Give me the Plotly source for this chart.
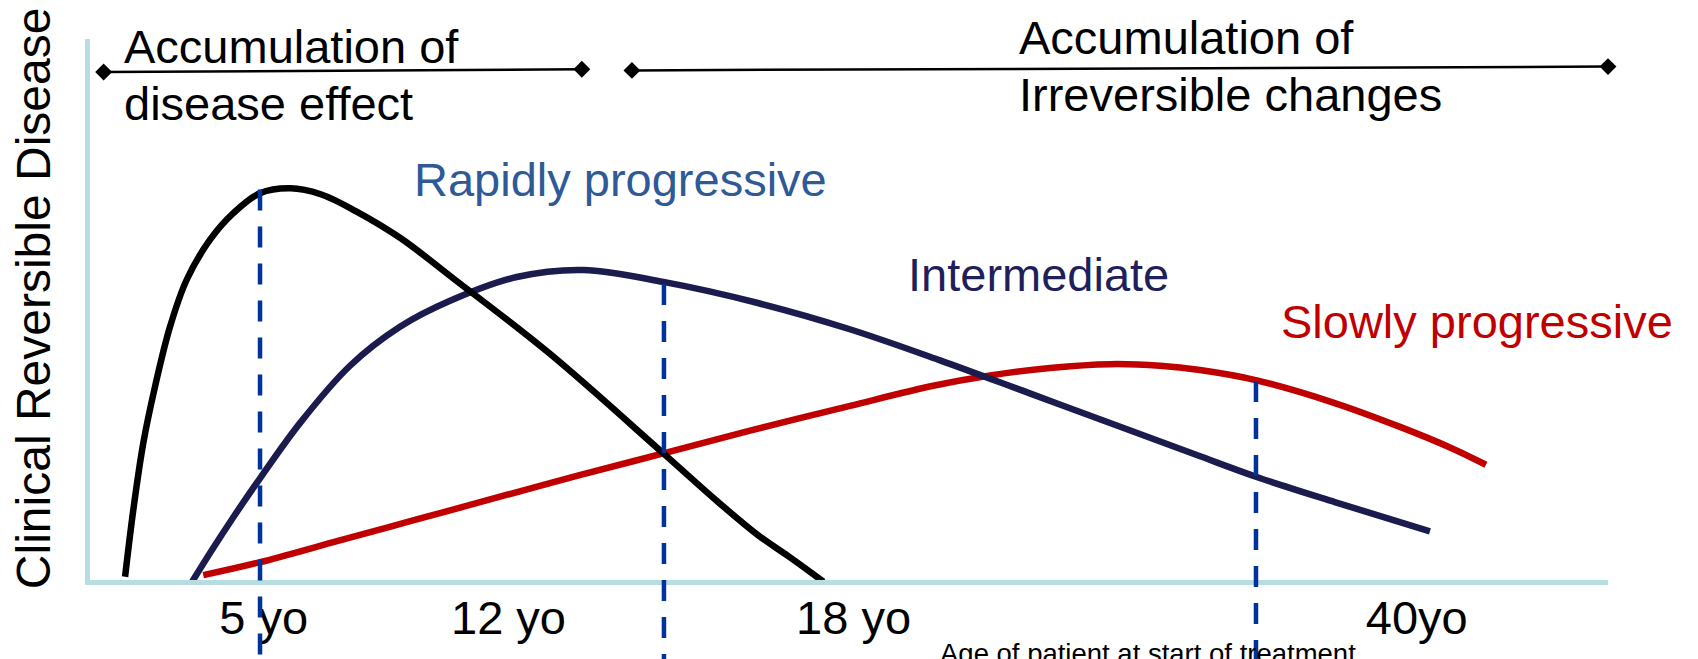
import plotly.graph_objects as go

# Horizontal axis: position along the age timeline (0-100); vertical: relative disease burden (0-100)
rapid_x = [2.31, 2.85, 3.51, 4.28, 5.27, 6.37, 7.91, 9.44, 11.20, 13.20, 15.20, 17.50,
           20.40, 24.00, 30.30, 37.77, 41.30, 44.00, 46.00, 48.31]
rapid_y = [0.6, 12.9, 25.3, 35.7, 46.8, 55.5, 62.9, 67.8, 71.5, 72.4, 71.3, 68.2,
           63.3, 55.6, 41.8, 23.4, 14.6, 8.3, 4.4, -0.3]

mid_x = [6.40, 8.00, 9.44, 11.20, 13.83, 17.13, 20.42, 23.72, 28.11, 32.50, 37.77,
         44.00, 50.00, 56.00, 62.00, 68.00, 73.00, 77.00, 82.00, 88.27]
mid_y = [-1.8, 5.4, 11.6, 18.8, 29.0, 39.6, 46.8, 51.6, 56.0, 57.3, 55.1,
         51.2, 46.4, 40.6, 34.4, 28.2, 23.0, 18.9, 14.4, 9.0]

slow_x = [7.46, 11.20, 16.03, 21.52, 27.01, 32.00, 37.77, 43.48, 50.07, 55.55, 59.29,
          63.24, 67.20, 70.50, 73.12, 76.86, 81.90, 86.30, 89.59, 91.96]
slow_y = [0.9, 3.3, 7.0, 11.2, 15.4, 19.2, 23.4, 27.6, 32.2, 35.9, 37.8,
          39.2, 39.9, 39.6, 38.8, 36.9, 32.8, 28.3, 24.5, 21.3]

# Ages where treatment starts, and the burden reached at that point
start_x = [11.20, 37.81, 76.81]
start_top = [72.2, 54.7, 36.8]

# Phase brackets along the top
phase1_x = [0.9, 32.4]
phase1_y = [93.9, 94.4]
phase2_x = [35.7, 100.0]
phase2_y = [94.2, 94.9]

tick_pos = [11.44, 27.57, 50.3, 87.4]
tick_labels = ["5 yo", "12 yo", "18 yo", "40yo"]

X_RANGE = [0, 100]
Y_RANGE = [0, 100]

FONT = "Liberation Sans, Arial, sans-serif"
AXIS_COLOR = "#B7DDE0"
DASH_COLOR = "#003399"


def to_paper_y(v):
    return (v - Y_RANGE[0]) / (Y_RANGE[1] - Y_RANGE[0])


fig = go.Figure()

curve_style = dict(mode="lines", line_shape="spline", hoverinfo="skip", showlegend=False)
fig.add_trace(go.Scatter(x=slow_x, y=slow_y, line=dict(color="#C00000", width=6.5, smoothing=1.0),
                         **curve_style))
fig.add_trace(go.Scatter(x=mid_x, y=mid_y, line=dict(color="#1B1B4E", width=6.5, smoothing=1.0),
                         **curve_style))
fig.add_trace(go.Scatter(x=rapid_x, y=rapid_y, line=dict(color="#000000", width=6.5, smoothing=1.0),
                         **curve_style))

for bx, by in ((phase1_x, phase1_y), (phase2_x, phase2_y)):
    fig.add_trace(go.Scatter(x=bx, y=by, mode="lines+markers", cliponaxis=False,
                             line=dict(color="#000000", width=2.5),
                             marker=dict(symbol="diamond", size=13, color="#000000"),
                             hoverinfo="skip", showlegend=False))

# Dashed verticals run from the curve down past the axis to the page bottom
for sx, top in zip(start_x, start_top):
    fig.add_shape(type="line", xref="x", yref="paper", x0=sx, x1=sx,
                  y0=to_paper_y(top), y1=-0.2,
                  line=dict(color=DASH_COLOR, width=4.5, dash="21px,16px"), layer="above")

ann = dict(showarrow=False, font=dict(family=FONT, size=47, color="#000000"),
           xref="x", yref="y", xanchor="left", yanchor="middle")
fig.add_annotation(text="Accumulation of", x=2.08, y=98.6, **ann)
fig.add_annotation(text="disease effect", x=2.08, y=88.1, **ann)
fig.add_annotation(text="Irreversible changes", x=61.04, y=89.8, **ann)
top_ann = dict(ann)
top_ann["yref"] = "paper"
fig.add_annotation(text="Accumulation of", x=61.04, y=1, yshift=2, **top_ann)

label = dict(ann)
label["font"] = dict(family=FONT, size=47, color="#2E5A96")
fig.add_annotation(text="Rapidly progressive", x=21.18, y=74.1, **label)
label["font"] = dict(family=FONT, size=47, color="#1F1F5C")
fig.add_annotation(text="Intermediate", x=53.78, y=56.5, **label)
label["font"] = dict(family=FONT, size=47, color="#C00000")
fig.add_annotation(text="Slowly progressive", x=78.35, y=47.7, **label)

fig.add_annotation(text="Clinical Reversible Disease", textangle=-90,
                   xref="paper", yref="paper", x=0, y=0.521, xshift=-57,
                   xanchor="center", yanchor="middle", showarrow=False,
                   font=dict(family=FONT, size=48, color="#000000"))
fig.add_annotation(text="Age of patient at start of treatment",
                   xref="paper", yref="paper", x=0.697, y=0, yshift=-73.5,
                   xanchor="center", yanchor="middle", showarrow=False,
                   font=dict(family=FONT, size=27.5, color="#000000"))

fig.update_xaxes(range=X_RANGE, showline=True, linecolor=AXIS_COLOR, linewidth=5,
                 showgrid=False, zeroline=False, ticks="",
                 tickvals=tick_pos, ticktext=tick_labels, ticklabelstandoff=-7,
                 tickfont=dict(family=FONT, size=47, color="#000000"))
fig.update_yaxes(range=Y_RANGE, showline=True, linecolor=AXIS_COLOR, linewidth=5,
                 showgrid=False, zeroline=False, showticklabels=False, ticks="")

fig.update_layout(width=1698, height=659, margin=dict(l=90, r=90, t=39, b=79),
                  plot_bgcolor="white", paper_bgcolor="white",
                  font=dict(family=FONT))

fig.write_html("out.html")
